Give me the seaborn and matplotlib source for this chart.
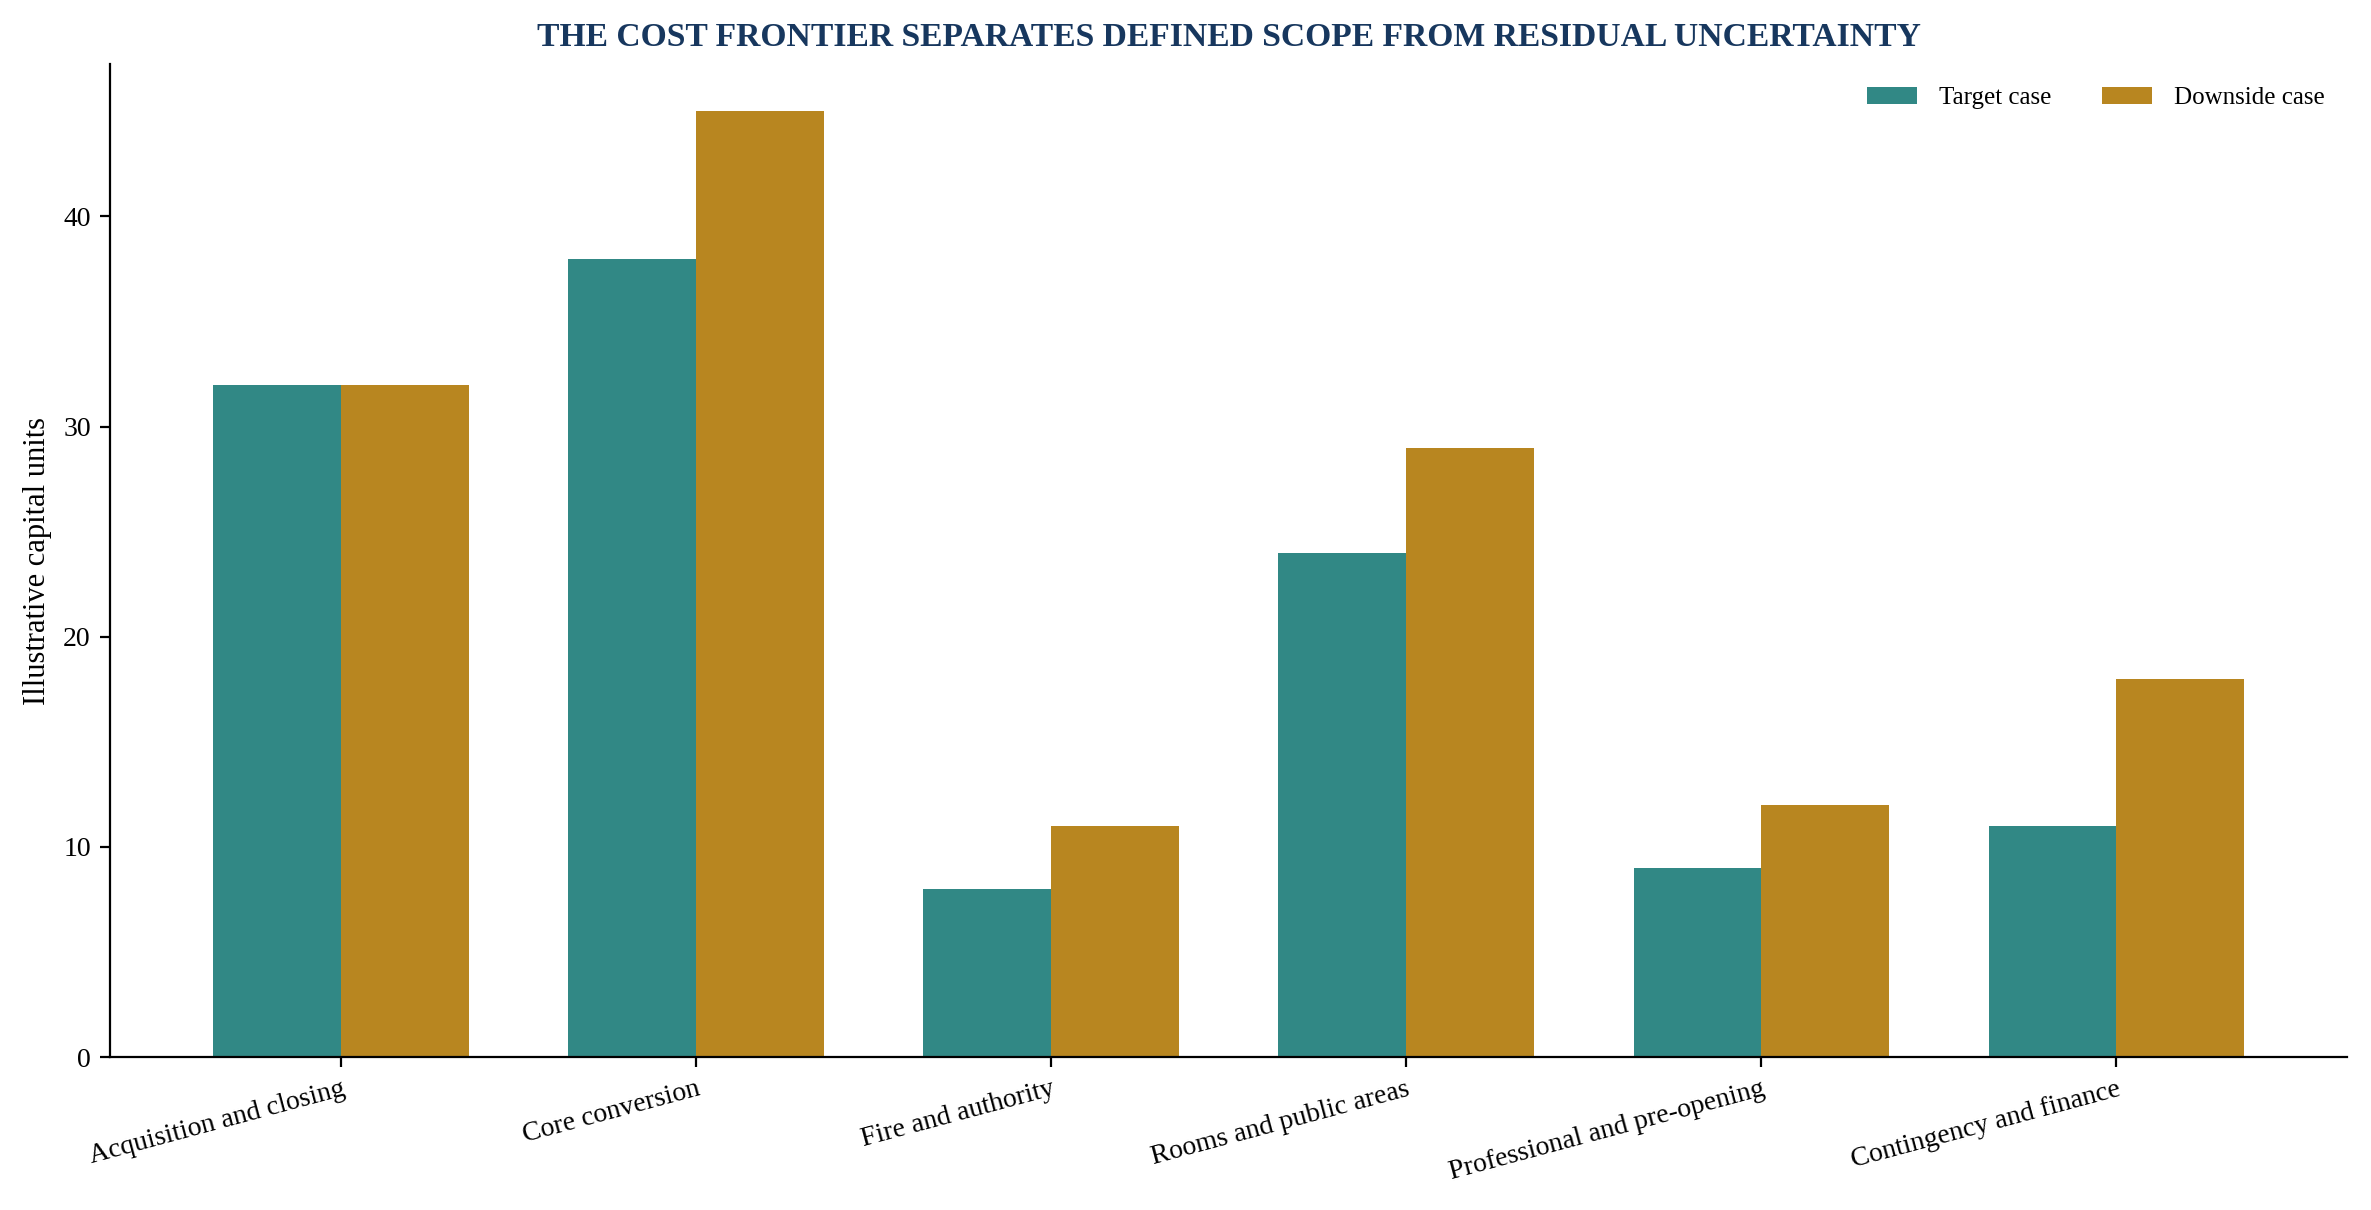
import pandas as pd
import matplotlib.pyplot as plt
import seaborn as sns

# ── DATA ──────────────────────────────────────────────────
categories = [
    "Acquisition and closing",
    "Core conversion",
    "Fire and authority",
    "Rooms and public areas",
    "Professional and pre-opening",
    "Contingency and finance",
]
target_case = [32, 38, 8, 24, 9, 11]
downside_case = [32, 45, 11, 29, 12, 18]
series_names = ["Target case", "Downside case"]

# ── STYLE ─────────────────────────────────────────────────
sns.set_style("ticks", {"axes.edgecolor": "black", "text.color": "black",
                        "axes.labelcolor": "black", "xtick.color": "black",
                        "ytick.color": "black"})
plt.rcParams["font.family"] = ["Liberation Serif", "DejaVu Serif"]

COLORS = {"Target case": "#318885", "Downside case": "#B88620"}

df = pd.DataFrame({
    "category": categories * 2,
    "case": [series_names[0]] * len(categories) + [series_names[1]] * len(categories),
    "value": target_case + downside_case,
})

fig, ax = plt.subplots(figsize=(11.855, 6.05), dpi=200)
fig.subplots_adjust(left=0.0465, right=0.990, bottom=0.1264, top=0.947)

sns.barplot(data=df, x="category", y="value", hue="case", order=categories,
            hue_order=series_names, palette=COLORS, width=0.72,
            saturation=1, errorbar=None, linewidth=0, ax=ax)

ax.set_xlim(-0.65, 5.65)
ax.set_ylim(0, 47.25)
ax.set_xlabel("")
ax.set_ylabel("Illustrative capital units", fontsize=11)
ax.set_title("THE COST FRONTIER SEPARATES DEFINED SCOPE FROM RESIDUAL UNCERTAINTY",
             fontsize=12.1, fontweight="bold", color="#17375E", pad=6.5)
ax.tick_params(axis="both", labelsize=10, colors="black")
plt.setp(ax.get_xticklabels(), rotation=15, ha="right", rotation_mode="anchor")
sns.despine(ax=ax)

ax.legend(loc="upper right", ncol=2, frameon=False, fontsize=9, title=None,
          handletextpad=0.9)

plt.savefig("out.png", dpi=200)
